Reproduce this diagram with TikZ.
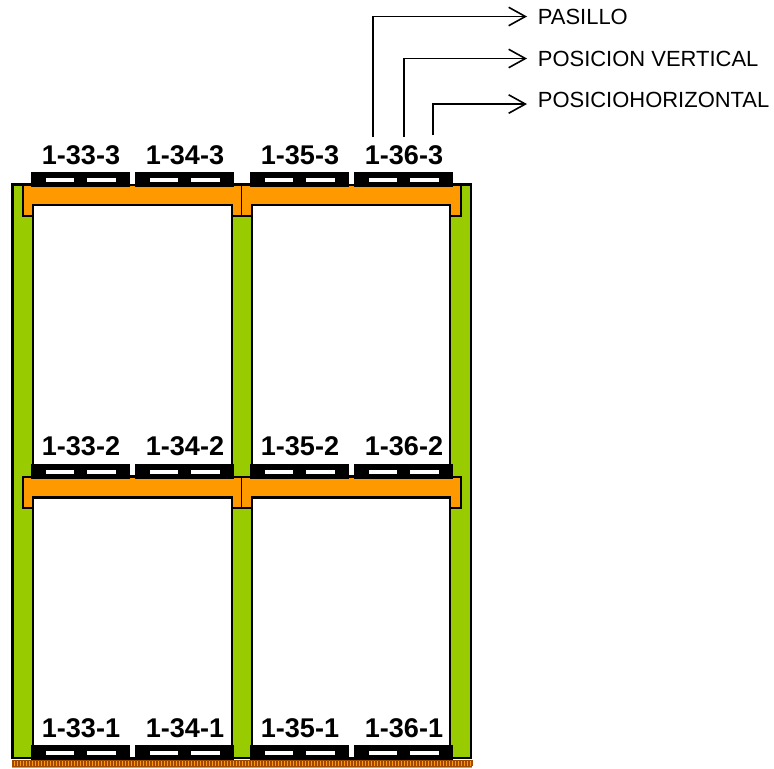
\documentclass[tikz,border=0pt]{standalone}
\usepackage{fontspec}
\setmainfont{Liberation Sans}
\usetikzlibrary{arrows.meta}
\definecolor{rackgreen}{HTML}{99CC00}
\definecolor{beamorange}{HTML}{FF9900}
\definecolor{floorbrown}{HTML}{A04A00}
\tikzset{
  upright/.style={draw=black, line width=1.5pt, fill=rackgreen},
  beam/.style={draw=black, line width=1.3pt, fill=beamorange},
  bay/.style={draw=black, line width=1.7pt, fill=white},
  loc/.style={font=\fontsize{15.4}{17}\selectfont\bfseries, inner sep=0pt},
  field/.style={font=\fontsize{12.5}{14}\selectfont, anchor=west, inner sep=0pt, outer sep=6.2pt},
  lead/.style={line width=0.9pt, -{Straight Barb[length=9.5pt, width=10.5pt, line width=0.9pt]}}
}
\begin{document}
\begin{tikzpicture}[x=0.02cm, y=-0.02cm]
  \useasboundingbox (0,0) rectangle (774,768);

  % Floor
  \fill[beamorange] (12,760) rectangle (472,768);
  \foreach \x in {13,16,...,472}
    \draw[floorbrown, line width=0.6pt] (\x,760) -- (\x,766);
  \draw[floorbrown, line width=0.6pt] (12,760.5) -- (472,760.5);
  \draw[floorbrown, line width=0.6pt] (12,766.5) -- (472,766.5);

  % Uprights
  \draw[upright] (12.5,184.5) rectangle (33,758);
  \draw[upright] (232,184.5) rectangle (252,758);
  \draw[upright] (450,184.5) rectangle (471,758);

  % Bays
  \draw[bay] (33,205) rectangle (232,476);
  \draw[bay] (252,205) rectangle (450,476);
  \draw[bay] (33,497) rectangle (232,758);
  \draw[bay] (252,497) rectangle (450,758);

  % Beams
  \foreach \y in {184,476} {
    \draw[beam] (23,\y+1) -- (461,\y+1) -- (461,\y+32) -- (450,\y+32) -- (450,\y+21)
      -- (252,\y+21) -- (252,\y+32) -- (232,\y+32) -- (232,\y+21)
      -- (33,\y+21) -- (33,\y+32) -- (23,\y+32) -- cycle;
    \draw[line width=1pt] (241.5,\y+1) -- (241.5,\y+33);
  }

  % Pallets
  \foreach \x in {31,135,250,354}
    \foreach \y in {172,464,745} {
      \fill[black] (\x,\y) rectangle (\x+99,\y+15);
      \fill[white] (\x+15,\y+6) rectangle (\x+43,\y+10);
      \fill[white] (\x+56,\y+6) rectangle (\x+85,\y+10);
    }

  % Locations
  \node[loc] (l331) at (81,728) {1-33-1};
  \node[loc] (l341) at (185,728) {1-34-1};
  \node[loc] (l351) at (300,728) {1-35-1};
  \node[loc] (l361) at (404,728) {1-36-1};
  \node[loc] (l332) at (81,446) {1-33-2};
  \node[loc] (l342) at (185,446) {1-34-2};
  \node[loc] (l352) at (300,446) {1-35-2};
  \node[loc] (l362) at (404,446) {1-36-2};
  \node[loc] (l333) at (81,155) {1-33-3};
  \node[loc] (l343) at (185,155) {1-34-3};
  \node[loc] (l353) at (300,155) {1-35-3};
  \node[loc] (l363) at (404,155) {1-36-3};

  % Fields of the code
  \node[field] (pasillo) at (527,16.5) {PASILLO};
  \node[field] (vertical) at (527,58.5) {POSICION VERTICAL};
  \node[field] (horizontal) at (527,100) {POSICIOHORIZONTAL};

  \coordinate (A) at (373,137);
  \coordinate (B) at (404,137);
  \coordinate (C) at (433,135);
  \draw[lead] (A) |- (pasillo.west);
  \draw[lead] (B) |- (vertical.west);
  \draw[lead] (C) |- ([yshift=-2.3pt]horizontal.west);

\end{tikzpicture}
\end{document}
